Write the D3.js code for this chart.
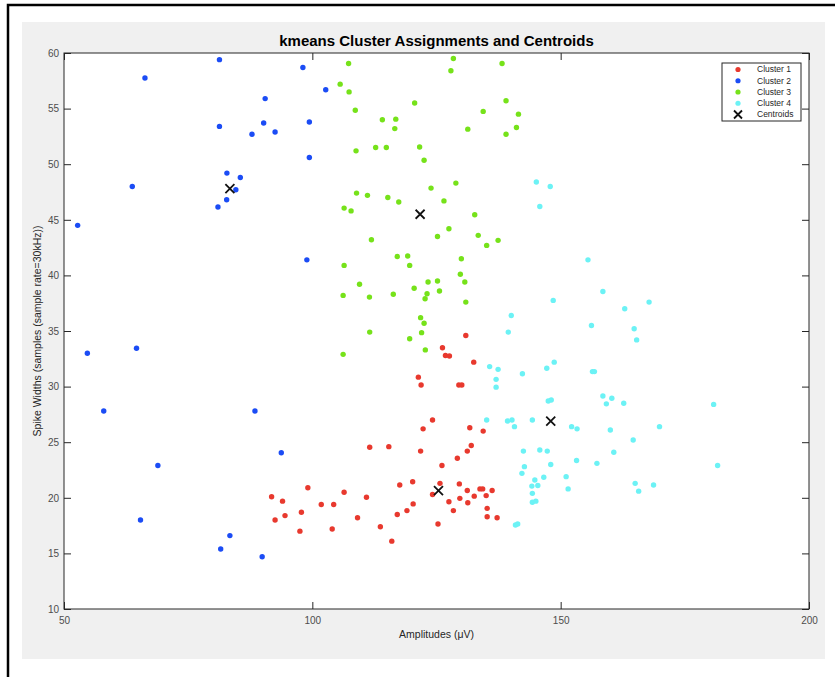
<!DOCTYPE html>
<html>
<head>
<meta charset="utf-8">
<script src="https://cdn.jsdelivr.net/npm/d3@7"></script>
<style>
  html, body { margin: 0; padding: 0; background: #ffffff; }
  svg { display: block; }
  text { font-family: "Liberation Sans", Arial, Helvetica, sans-serif; }
</style>
</head>
<body>
<svg id="chart" width="835" height="677"></svg>
<script>
// Cluster members: [amplitude (µV), spike width (samples)]
const cluster1 = [
  [99.1,20.9],[91.8,20.1],[94.0,19.7],[97.8,18.7],[92.5,18.0],[94.5,18.4],[97.5,17.0],
  [130.9,34.6],[126.2,33.5],[126.8,32.8],[127.6,32.75],[132.5,32.2],[121.35,30.85],
  [121.9,30.15],[129.5,30.15],[130.1,30.15],[124.2,27.0],[122.3,26.2],[131.7,26.3],
  [134.4,26.0],[111.55,24.55],[115.4,24.6],[121.8,24.2],[132.0,24.7],[131.2,24.2],
  [129.2,23.55],[126.1,22.9],[106.4,20.5],[117.6,21.15],[120.2,21.45],[125.7,21.3],
  [129.6,21.25],[124.2,20.3],[110.9,20.05],[101.8,19.4],[104.3,19.4],[120.3,19.45],
  [127.5,19.65],[131.2,20.65],[129.7,19.95],[131.3,19.55],[132.6,20.15],[133.75,20.8],
  [134.3,20.8],[135.0,20.2],[136.2,20.65],[109.1,18.2],[104.0,17.2],[113.7,17.4],
  [116.0,16.1],[117.1,18.5],[119.05,18.85],[128.4,18.85],[125.3,17.65],[135.2,19.05],
  [135.2,18.3],[137.2,18.2]
];
const cluster2 = [
  [81.3,59.4],[66.3,57.75],[98.1,58.7],[102.7,56.7],[90.5,55.9],[81.3,53.4],[90.2,53.7],
  [87.85,52.7],[92.5,52.9],[99.4,53.8],[99.4,50.6],[82.8,49.2],[85.5,48.8],[84.6,47.7],
  [82.75,46.8],[81.0,46.15],[63.75,48.0],[52.75,44.5],[98.9,41.4],[54.7,33.0],[64.6,33.45],
  [58.0,27.8],[88.45,27.8],[93.75,24.05],[68.9,22.9],[65.4,18.0],[83.4,16.6],[81.55,15.4],
  [89.9,14.7]
];
const cluster3 = [
  [107.3,59.05],[128.4,59.5],[127.9,58.4],[138.2,59.05],[105.6,57.2],[107.4,56.5],
  [120.6,55.5],[139.0,55.7],[108.65,54.85],[134.4,54.75],[141.5,54.5],[114.1,54.0],
  [116.8,54.05],[116.6,53.2],[131.3,53.15],[141.1,53.3],[139.0,52.7],[108.8,51.2],
  [112.75,51.5],[114.9,51.5],[121.6,51.55],[122.5,50.35],[128.9,48.3],[123.9,47.85],
  [108.9,47.4],[111.1,47.2],[115.2,47.0],[117.4,46.6],[126.5,46.7],[106.4,46.05],
  [107.8,45.8],[132.7,45.45],[127.5,44.2],[125.2,43.5],[133.4,43.6],[135.1,42.7],
  [137.4,43.15],[111.9,43.2],[117.1,41.7],[119.2,41.75],[119.6,40.9],[130.0,41.5],
  [106.4,40.9],[129.8,40.1],[130.7,39.4],[109.5,39.2],[123.3,39.4],[125.2,39.5],
  [120.5,38.85],[123.1,38.35],[125.6,38.6],[122.7,37.9],[106.2,38.2],[111.5,38.05],
  [116.3,38.3],[130.9,37.6],[121.8,36.2],[122.5,35.7],[111.55,34.9],[122.0,34.85],
  [119.6,34.3],[122.75,33.3],[106.2,32.9]
];
const cluster4 = [
  [145.1,48.4],[147.9,48.0],[145.8,46.2],[148.5,37.75],[140.05,36.4],[139.45,34.9],
  [135.7,31.8],[137.4,31.55],[137.0,30.65],[137.0,29.95],[142.3,31.15],[147.2,31.65],
  [148.7,32.2],[147.5,28.7],[148.1,28.8],[135.1,27.0],[139.3,26.9],[140.2,27.0],
  [140.7,26.4],[144.3,27.0],[142.5,24.2],[145.8,24.3],[147.3,24.2],[142.7,22.8],
  [142.2,22.2],[148.0,23.0],[146.6,21.85],[144.8,21.6],[144.2,21.05],[145.4,21.1],
  [144.3,20.4],[144.3,19.6],[145.0,19.7],[140.9,17.55],[141.35,17.65],[155.5,41.4],
  [158.5,38.55],[167.8,37.6],[162.9,37.0],[156.2,35.5],[164.8,35.2],[165.3,34.2],
  [156.4,31.35],[156.8,31.35],[158.5,29.15],[160.3,28.95],[159.2,28.45],[162.7,28.5],
  [180.8,28.4],[152.2,26.4],[153.3,26.2],[160.0,26.1],[169.9,26.4],[164.6,25.2],
  [160.7,24.1],[153.2,23.35],[157.3,23.1],[181.6,22.9],[151.1,21.9],[151.5,20.8],
  [165.0,21.3],[168.7,21.15],[165.7,20.6]
];
const centroids = [[125.4,20.65],[83.4,47.8],[121.7,45.5],[148.0,26.9]];

const seriesNames = ["Cluster 1","Cluster 2","Cluster 3","Cluster 4"];
const seriesColors = ["#e8392e","#1b4cf5","#76e21a","#6cf2f5"];
const xTicks = [50,100,150,200];
const yTicks = [10,15,20,25,30,35,40,45,50,55,60];

const titleText = "kmeans Cluster Assignments and Centroids";
const xLabel = "Amplitudes (\u03bcV)";
const yLabel = "Spike Widths (samples (sample rate=30kHz))";

const svg = d3.select("#chart");

// outer frame and figure background
svg.append("rect").attr("x",8).attr("y",5).attr("width",840).attr("height",690)
  .attr("fill","#ffffff").attr("stroke","#000").attr("stroke-width",2.5);
svg.append("rect").attr("x",22).attr("y",22).attr("width",803).attr("height",637)
  .attr("fill","#f0f0f0");

const plot = {left:64, top:53, right:809, bottom:609};
const x = d3.scaleLinear().domain([50,200]).range([plot.left, plot.right]);
const y = d3.scaleLinear().domain([10,60]).range([plot.bottom, plot.top]);

// axes area
svg.append("rect").attr("x",plot.left).attr("y",plot.top)
  .attr("width",plot.right-plot.left).attr("height",plot.bottom-plot.top)
  .attr("fill","#ffffff");

const tickLen = 7;
const axisColor = "#262626";
const labelColor = "#4d4d4d";

const xBottom = svg.append("g").attr("transform",`translate(0,${plot.bottom})`)
  .call(d3.axisBottom(x).tickValues(xTicks).tickSize(-tickLen).tickPadding(6).tickFormat(d3.format("d")));
const xTop = svg.append("g").attr("transform",`translate(0,${plot.top})`)
  .call(d3.axisTop(x).tickValues(xTicks).tickSize(-tickLen).tickFormat(""));
const yLeft = svg.append("g").attr("transform",`translate(${plot.left},0)`)
  .call(d3.axisLeft(y).tickValues(yTicks).tickSize(-tickLen).tickPadding(5).tickFormat(d3.format("d")));
const yRight = svg.append("g").attr("transform",`translate(${plot.right},0)`)
  .call(d3.axisRight(y).tickValues(yTicks).tickSize(-tickLen).tickFormat(""));

[xBottom,xTop,yLeft,yRight].forEach(g => {
  g.select(".domain").attr("stroke",axisColor).attr("stroke-width",1);
  g.selectAll(".tick line").attr("stroke",axisColor).attr("stroke-width",1);
  g.selectAll(".tick text").attr("fill",labelColor).attr("font-size",10)
    .attr("font-family","'Liberation Sans', Arial, sans-serif");
});
xBottom.selectAll(".tick text").attr("dy","0.9em");
// the domain paths draw short outer ticks; keep a plain box instead
[xBottom,xTop,yLeft,yRight].forEach(g => g.select(".domain").remove());
svg.append("rect").attr("x",plot.left).attr("y",plot.top)
  .attr("width",plot.right-plot.left).attr("height",plot.bottom-plot.top)
  .attr("fill","none").attr("stroke",axisColor).attr("stroke-width",1);

// cluster points
const clusters = [cluster1, cluster2, cluster3, cluster4];
const dotR = 2.7;
clusters.forEach((pts, i) => {
  svg.append("g").selectAll("circle").data(pts).join("circle")
    .attr("cx", d => x(d[0])).attr("cy", d => y(d[1]))
    .attr("r", dotR).attr("fill", seriesColors[i]);
});

// centroid markers
const xs = 4.5;
const cg = svg.append("g").selectAll("g").data(centroids).join("g")
  .attr("transform", d => `translate(${x(d[0])},${y(d[1])})`);
cg.append("path").attr("d",`M${-xs},${-xs}L${xs},${xs}M${-xs},${xs}L${xs},${-xs}`)
  .attr("stroke","#111").attr("stroke-width",1.8).attr("fill","none");

// title and axis labels
svg.append("text").attr("x",(plot.left+plot.right)/2).attr("y",46)
  .attr("text-anchor","middle").attr("font-size",15).attr("font-weight","bold")
  .attr("fill","#000").text(titleText);
svg.append("text").attr("x",(plot.left+plot.right)/2).attr("y",638)
  .attr("text-anchor","middle").attr("font-size",10.5).attr("fill","#262626").text(xLabel);
svg.append("text").attr("transform",`translate(41,${(plot.top+plot.bottom)/2}) rotate(-90)`)
  .attr("text-anchor","middle").attr("font-size",10.5).attr("fill","#262626").text(yLabel);

// legend
const lg = svg.append("g").attr("transform","translate(722,63)");
lg.append("rect").attr("width",79).attr("height",58)
  .attr("fill","#ffffff").attr("stroke","#262626").attr("stroke-width",1);
const legendItems = seriesNames.map((n,i) => ({name:n, color:seriesColors[i], type:"dot"}))
  .concat([{name:"Centroids", color:"#111", type:"x"}]);
const rowY = d3.scalePoint().domain(legendItems.map(d => d.name)).range([6.5, 51.5]);
const rows = lg.selectAll("g.row").data(legendItems).join("g").attr("class","row")
  .attr("transform", d => `translate(0,${rowY(d.name)})`);
rows.filter(d => d.type === "dot").append("circle").attr("cx",16).attr("cy",0).attr("r",2.6)
  .attr("fill", d => d.color);
rows.filter(d => d.type === "x").append("path")
  .attr("d","M12,-4L20,4M12,4L20,-4").attr("stroke","#111").attr("stroke-width",1.8);
rows.append("text").attr("x",35).attr("y",0).attr("dy","0.35em")
  .attr("font-size",8.5).attr("fill","#262626").text(d => d.name);
</script>
</body>
</html>
